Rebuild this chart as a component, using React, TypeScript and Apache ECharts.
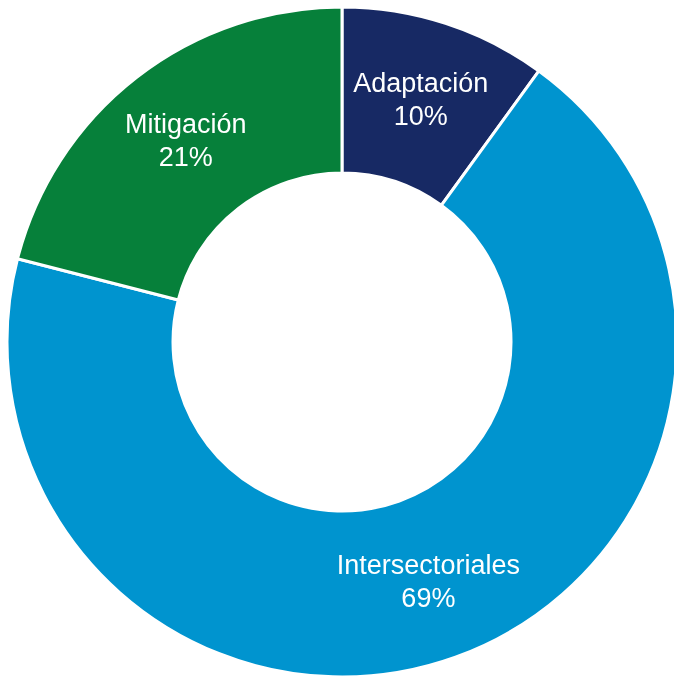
import React, { useEffect, useRef } from "react";
import * as echarts from "echarts";

const categories = ["Adaptación", "Intersectoriales", "Mitigación"];
const values = [10, 69, 21];
const colors = ["#172964", "#0094cf", "#06803a"];

export default function App() {
  const ref = useRef<HTMLDivElement>(null);
  useEffect(() => {
    if (!ref.current) return;
    const chart = echarts.init(ref.current, undefined, { renderer: "svg" });
    chart.setOption({
      animation: false,
      series: [
        {
          type: "pie",
          center: [342, 342],
          radius: [169, 335],
          startAngle: 90,
          clockwise: true,
          avoidLabelOverlap: false,
          itemStyle: { borderColor: "#ffffff", borderWidth: 3 },
          label: {
            show: true,
            position: "inside",
            formatter: "{b}\n{c}%",
            color: "#ffffff",
            fontFamily: "Liberation Sans, Arial, sans-serif",
            fontSize: 27,
            lineHeight: 33,
            align: "center",
          },
          labelLine: { show: false },
          emphasis: { disabled: true },
          data: categories.map((name, i) => ({
            name,
            value: values[i],
            itemStyle: { color: colors[i] },
          })),
        },
      ],
    });
    return () => chart.dispose();
  }, []);
  return (
    <div
      ref={ref}
      style={{ position: "fixed", left: 0, top: 0, width: 674, height: 676 }}
    />
  );
}
